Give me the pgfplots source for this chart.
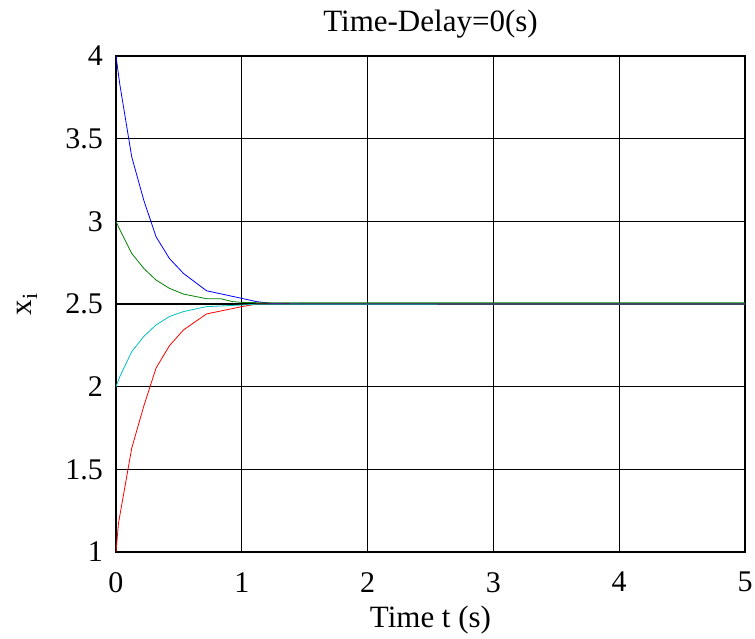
\documentclass[border=0pt]{standalone}
\usepackage{fontspec}
\setmainfont{Liberation Serif}
\usepackage{pgfplots}
\pgfplotsset{compat=1.18}
\definecolor{mblue}{rgb}{0,0,1}
\definecolor{mgreen}{rgb}{0,0.5,0}
\definecolor{mred}{rgb}{1,0,0}
\definecolor{mcyan}{rgb}{0,0.75,0.75}
\begin{document}
\begin{tikzpicture}
\begin{axis}[
  name=ax,
  scale only axis,
  width=629pt, height=496pt,
  xmin=0, xmax=5, ymin=1, ymax=4,
  xtick={0,1,2,3,4,5},
  ytick={1,1.5,2,2.5,3,3.5,4},
  /pgf/number format/assume math mode=true,
  tick label style={font=\fontsize{30}{36}\selectfont, inner sep=0pt},
  xticklabel style={yshift=-20pt},
  yticklabel style={xshift=-13pt},
  tick align=inside,
  major tick length=7pt,
  tick style={black, line width=1.2pt},
  grid=major,
  major grid style={black, line width=1.1pt},
  axis line style={black, line width=1.6pt},
  title={Time-Delay=0(s)},
  title style={font=\fontsize{31}{36}\selectfont, at={(axis description cs:0.5,1)}, anchor=south, inner sep=0pt, yshift=12pt},
  xlabel={Time t (s)},
  xlabel style={font=\fontsize{31}{36}\selectfont, at={(axis description cs:0.5,0)}, anchor=north, inner sep=0pt, yshift=-54pt},
  ylabel={x\textsubscript{i}},
  ylabel style={font=\fontsize{31}{36}\selectfont, at={(axis description cs:-0.1415,0.5)}, anchor=center, inner sep=0pt},
]
\addplot[mblue, line width=0.8pt] coordinates {
(0,4) (0.03,3.83) (0.125,3.39) (0.22,3.13) (0.318,2.907) (0.424,2.776) (0.536,2.685) (0.72,2.58) (1.0,2.534) (1.12,2.514) (1.25,2.503) (1.5,2.5) (5,2.5)
};
\addplot[mgreen, line width=0.8pt] coordinates {
(0,3) (0.03,2.95) (0.125,2.806) (0.22,2.716) (0.318,2.645) (0.424,2.595) (0.536,2.56) (0.72,2.532) (0.83,2.532) (0.93,2.514) (1.0,2.51) (1.12,2.508) (5,2.508)
};
\addplot[mred, line width=0.8pt] coordinates {
(0,1) (0.02,1.175) (0.125,1.628) (0.22,1.88) (0.318,2.112) (0.424,2.247) (0.536,2.343) (0.72,2.44) (1.0,2.484) (1.12,2.5) (5,2.5)
};
\addplot[mcyan, line width=0.8pt] coordinates {
(0,2) (0.03,2.06) (0.125,2.212) (0.22,2.303) (0.318,2.373) (0.424,2.424) (0.536,2.454) (0.72,2.484) (1.0,2.494) (1.12,2.499) (5,2.5)
};
\end{axis}
\pgfresetboundingbox
\path ([xshift=-116pt,yshift=-87pt]ax.south west) rectangle ([xshift=10pt,yshift=56pt]ax.north east);
\end{tikzpicture}
\end{document}
